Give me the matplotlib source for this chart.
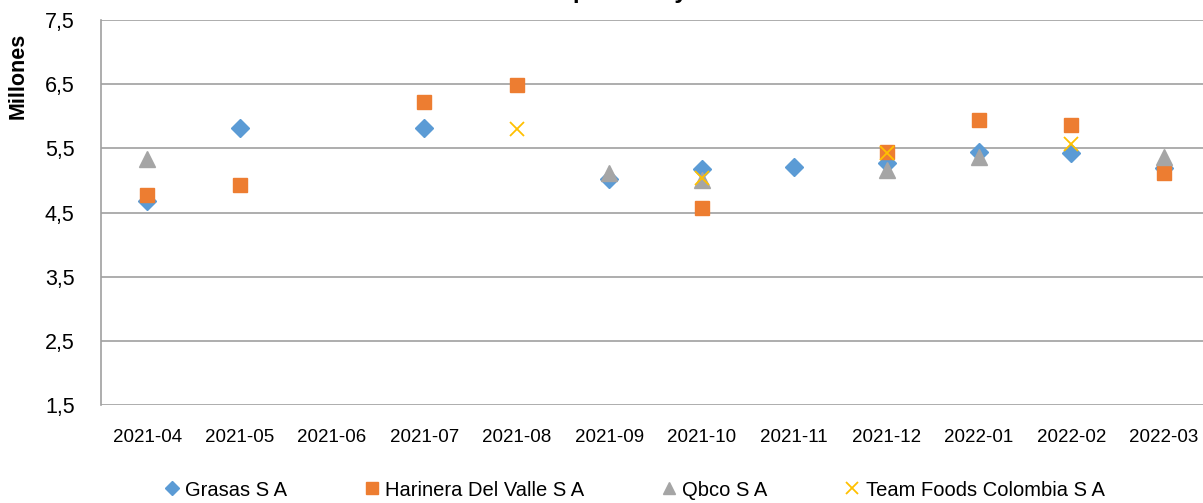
import matplotlib
matplotlib.use("Agg")
import matplotlib.pyplot as plt
import numpy as np

months = ["2021-04", "2021-05", "2021-06", "2021-07", "2021-08", "2021-09",
          "2021-10", "2021-11", "2021-12", "2022-01", "2022-02", "2022-03"]
nan = np.nan
grasas = [4.68, 5.82, nan, 5.82, nan, 5.02, 5.18, 5.21, 5.27, 5.44, 5.43, 5.19]
harinera = [4.77, 4.93, nan, 6.22, 6.49, nan, 4.57, nan, 5.44, 5.94, 5.86, 5.12]
qbco = [5.33, nan, nan, nan, nan, 5.12, 5.01, nan, 5.16, 5.37, nan, 5.37]
team = [nan, nan, nan, nan, 5.80, nan, 5.04, nan, 5.43, nan, 5.57, nan]
series_names = ["Grasas S A", "Harinera Del Valle S A", "Qbco S A", "Team Foods Colombia S A"]
yticks = [1.5, 2.5, 3.5, 4.5, 5.5, 6.5, 7.5]

plt.rcParams['font.family'] = ['Liberation Sans', 'DejaVu Sans']

fig = plt.figure(figsize=(12.03, 5.03), dpi=100)
ax = fig.add_axes([101/1203, 1-405/503, 1109/1203, 385/503])

x = np.arange(len(months))
ax.plot(x, grasas, ls='none', marker='D', ms=9.5, color='#5B9BD5', label=series_names[0], zorder=3)
ax.plot(x, harinera, ls='none', marker='s', ms=10.5, color='#ED7D31', label=series_names[1], zorder=3)
ax.plot(x, qbco, ls='none', marker='^', ms=11, color='#A5A5A5', label=series_names[2], zorder=3)
ax.plot(x, team, ls='none', marker='x', ms=10, mew=1.3, color='#FFC000', label=series_names[3], zorder=4)

ax.set_xlim(-0.5, len(months)-0.5)
ax.set_ylim(1.5, 7.5)
ax.set_yticks(yticks)
ax.set_yticklabels([f"{v:.1f}".replace('.', ',') for v in yticks], fontsize=15.5)
ax.set_xticks(x)
ax.set_xticklabels(months, fontsize=13.5)
ax.tick_params(axis='both', length=0)
ax.tick_params(axis='x', pad=17)
ax.tick_params(axis='y', pad=19)
ax.grid(axis='y', color='#A0A0A0', lw=1.2)
ax.set_axisbelow(True)
for s in ['top', 'right', 'bottom']:
    ax.spines[s].set_visible(False)
ax.spines['left'].set_color('#A0A0A0')
ax.spines['left'].set_linewidth(1.2)

ax.set_ylabel("Millones", fontsize=15.5, fontweight='bold')
ax.yaxis.set_label_coords((29 - 101) / 1109, (405 - 76) / 385)

fig.text(0.299, 1 + 2/503, "Valor Unitario Compra Neta y Bruta", ha='left', va='baseline',
         fontsize=17, fontweight='bold')

fig.legend(loc='center', bbox_to_anchor=(0.527, 1-490/503), ncol=4, frameon=False,
           fontsize=14.5, columnspacing=3.8, handletextpad=0.27, handlelength=0.8,
           markerscale=0.8)

fig.savefig("out.png", dpi=100)
